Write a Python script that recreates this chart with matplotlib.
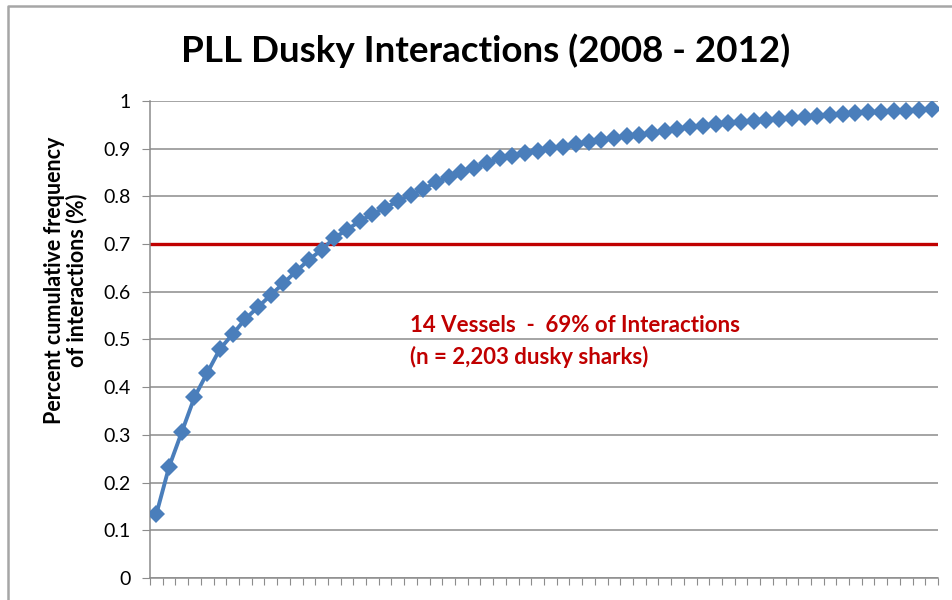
import matplotlib.pyplot as plt
import numpy as np
from matplotlib.lines import Line2D

plt.rc('font', family=['Lato', 'DejaVu Sans'])

# cumulative share of interactions, one point per vessel
cum_freq = [0.134, 0.233, 0.306, 0.379, 0.430, 0.480, 0.511, 0.543, 0.568, 0.593,
            0.618, 0.643, 0.667, 0.688, 0.713, 0.730, 0.748, 0.763, 0.776, 0.790,
            0.803, 0.815, 0.830, 0.840, 0.851, 0.860, 0.870, 0.880, 0.885, 0.890,
            0.895, 0.901, 0.904, 0.910, 0.914, 0.918, 0.922, 0.927, 0.929, 0.933,
            0.937, 0.941, 0.945, 0.948, 0.952, 0.954, 0.956, 0.958, 0.960, 0.962,
            0.964, 0.966, 0.968, 0.970, 0.972, 0.974, 0.976, 0.977, 0.979, 0.980,
            0.981, 0.983]
threshold = 0.7
yticks = [0, 0.1, 0.2, 0.3, 0.4, 0.5, 0.6, 0.7, 0.8, 0.9, 1]
ytick_labels = ['0', '0.1', '0.2', '0.3', '0.4', '0.5', '0.6', '0.7', '0.8', '0.9', '1']

x = np.arange(len(cum_freq))

fig = plt.figure(figsize=(9.53, 6), dpi=100)
ax = fig.add_axes([0.1574, 0.0367, 0.8269, 0.795])

# chart area border: only top and left edges are in the screenshot
fig.add_artist(Line2D([8 / 953, 8 / 953, 1.0], [0.0, 1 - 6 / 600, 1 - 6 / 600],
                      transform=fig.transFigure, color='#a6a6a6', linewidth=1.8))

ax.set_yticks(yticks)
ax.set_yticklabels(ytick_labels, fontsize=14)
ax.set_ylim(0, 1)
ax.set_xlim(-0.5, len(cum_freq) - 0.5)
ax.grid(axis='y', color='#8c8c8c', linewidth=1.1)
ax.set_axisbelow(True)

ax.axhline(threshold, color='#c00000', linewidth=2.4, zorder=2)
ax.plot(x, cum_freq, '-', color='#4a7ebb', linewidth=2.8, marker='D',
        markersize=9.5, markeredgewidth=0, zorder=3)

ax.set_xticks(np.arange(-0.5, len(cum_freq), 1))
ax.set_xticklabels([])
ax.tick_params(axis='x', length=5, color='#8c8c8c', direction='out')
ax.tick_params(axis='y', length=6, color='#8c8c8c', direction='out', pad=8)

for s in ['top', 'right']:
    ax.spines[s].set_visible(False)
ax.spines['left'].set_color('#8c8c8c')
ax.spines['bottom'].set_color('#8c8c8c')
ax.spines['left'].set_linewidth(1.1)
ax.spines['bottom'].set_linewidth(1.1)

ax.set_ylabel('Percent cumulative frequency\nof interactions (%)', fontsize=15.5,
              fontweight='bold', linespacing=1.0)
ax.yaxis.set_label_coords(-0.08, 0.625)

fig.text(0.51, 0.915, 'PLL Dusky Interactions (2008 - 2012)', ha='center', va='center',
         fontsize=26.5, fontweight='bold')

ax.text(0.33, 0.530, '14 Vessels  -  69% of Interactions', transform=ax.transAxes,
        color='#c00000', fontsize=16, fontweight='bold', ha='left', va='center')
ax.text(0.33, 0.463, '(n = 2,203 dusky sharks)', transform=ax.transAxes,
        color='#c00000', fontsize=16, fontweight='bold', ha='left', va='center')

plt.savefig('out.png', dpi=100)
